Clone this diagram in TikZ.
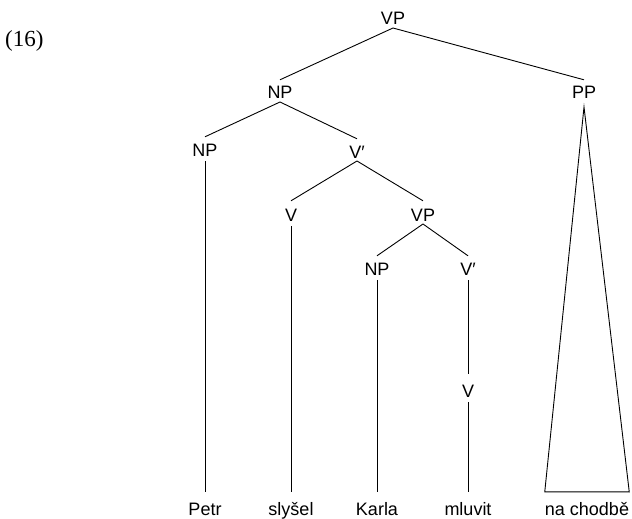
\documentclass[tikz,border=0pt]{standalone}
\usepackage{fontspec}
\setmainfont{Liberation Serif}
\setsansfont{Liberation Sans}
\begin{document}
\begin{tikzpicture}[x=1pt,y=-1pt,
  lab/.style={font=\sffamily\fontsize{18}{20}\selectfont, inner sep=0pt, anchor=base, text height=13pt, text depth=0pt},
  br/.style={line width=0.9pt, black}]
\useasboundingbox (0,0) rectangle (632,519);
\node[font=\rmfamily\fontsize{23}{26}\selectfont, anchor=base west, inner sep=0pt] (ex) at (5,47) {(16)};
% categories
\node[lab] (vp0) at (393,25) {VP};
\node[lab] (np1) at (280,99) {NP};
\node[lab] (pp1) at (584,99) {PP};
\node[lab] (np2) at (205,156) {NP};
\node[lab] (vb1) at (357,158) {V′};
\node[lab] (v2) at (291,221) {V};
\node[lab] (vp2) at (423,221) {VP};
\node[lab] (np3) at (377,275) {NP};
\node[lab] (vb3) at (468,275) {V′};
\node[lab] (v4) at (468,397) {V};
% leaves
\node[lab] (petr) at (205,515) {Petr};
\node[lab] (slysel) at (291,515) {slyšel};
\node[lab] (karla) at (377,515) {Karla};
\node[lab] (mluvit) at (468,515) {mluvit};
\node[lab] (cd) at (587,515) {na chodbě};
% branches
\draw[br] ([yshift=-3pt]vp0.base) -- ([yshift=6pt]np1.north);
\draw[br] ([yshift=-3pt]vp0.base) -- ([yshift=6pt]pp1.north);
\draw[br] ([yshift=-3pt]np1.base) -- ([yshift=6pt]np2.north);
\draw[br] ([yshift=-3pt]np1.base) -- ([yshift=6pt]vb1.north);
\draw[br] ([yshift=-3pt]vb1.base) -- ([yshift=7pt]v2.north);
\draw[br] ([yshift=-3pt]vb1.base) -- ([yshift=7pt]vp2.north);
\draw[br] ([yshift=-3pt]vp2.base) -- ([yshift=6pt]np3.north);
\draw[br] ([yshift=-3pt]vp2.base) -- ([yshift=6pt]vb3.north);
\draw[br] ([yshift=-5pt]vb3.base) -- ([yshift=10pt]v4.north);
% to leaves
\draw[br] ([yshift=-5pt]np2.base) -- ([yshift=10pt]petr.north);
\draw[br] ([yshift=-5pt]v2.base) -- ([yshift=10pt]slysel.north);
\draw[br] ([yshift=-5pt]np3.base) -- ([yshift=10pt]karla.north);
\draw[br] ([yshift=-5pt]v4.base) -- ([yshift=10pt]mluvit.north);
\draw[br] ([yshift=-8pt]pp1.base) -- ([yshift=10pt]cd.north west) -- ([yshift=10pt]cd.north east) -- cycle;
\end{tikzpicture}
\end{document}
